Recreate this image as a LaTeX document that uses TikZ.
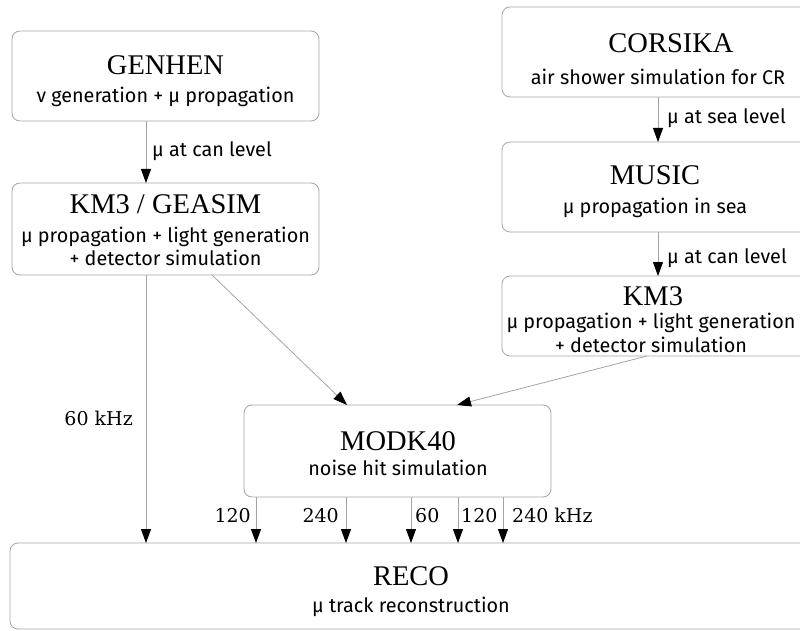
\documentclass[tikz,border=0pt]{standalone}
\usepackage{fontspec}
\usetikzlibrary{arrows.meta}
\newfontfamily\ttlfont{Liberation Serif}
\newfontfamily\subfont{Fira Sans}
\newfontfamily\labfont{DejaVu Serif}
\definecolor{linegray}{RGB}{165,165,165}
\begin{document}
\begin{tikzpicture}[x=1pt,y=-1pt,
  box/.style={draw=linegray,line width=0.8pt,rounded corners=8pt,inner sep=0pt,outer sep=0pt},
  ttl/.style={font=\ttlfont\fontsize{28.5}{34}\selectfont,inner sep=0pt,anchor=base},
  sub/.style={font=\subfont\fontsize{19.8}{22}\selectfont,inner sep=0pt,anchor=base},
  lab/.style={font=\labfont\fontsize{19}{22}\selectfont,inner sep=0pt},
  arr/.style={draw=linegray,line width=0.8pt,-{Triangle[length=14pt,width=10pt,color=black,fill=black]}}]
\useasboundingbox (0,0) rectangle (800,631);
\clip (0,0) rectangle (800,631);
% boxes
\node[box,minimum width=307pt,minimum height=90pt] (genhen) at (165.5,76) {};
\node[box,minimum width=307pt,minimum height=92pt] (geasim) at (165.5,229) {};
\node[box,minimum width=306pt,minimum height=90pt] (corsika) at (655,52) {};
\node[box,minimum width=306pt,minimum height=90pt] (music) at (655,187) {};
\node[box,minimum width=306pt,minimum height=80pt] (kmr) at (655,316) {};
\node[box,minimum width=307pt,minimum height=92pt] (modk) at (397.5,451) {};
\node[box,minimum width=802pt,minimum height=86pt] (reco) at (411,586) {};
% texts
\node[ttl] (genhenT) at (165.5,75) {GENHEN};
\node[sub] (genhenS) at (165.5,103) {ν generation + μ propagation};
\node[ttl] (geasimT) at (165.5,214) {KM3 / GEASIM};
\node[sub] (geasimS1) at (165.5,242) {μ propagation + light generation};
\node[sub] (geasimS2) at (165.5,265) {+ detector simulation};
\node[ttl] (corsikaT) at (671,53) {CORSIKA};
\node[sub] (corsikaS) at (658,85) {air shower simulation for CR};
\node[ttl] (musicT) at (655,185) {MUSIC};
\node[sub] (musicS) at (655,213) {μ propagation in sea};
\node[ttl] (kmrT) at (653,305) {KM3};
\node[sub] (kmrS1) at (651,328) {μ propagation + light generation};
\node[sub] (kmrS2) at (651,352) {+ detector simulation};
\node[ttl] (modkT) at (398,450) {MODK40};
\node[sub] (modkS) at (398,475) {noise hit simulation};
\node[ttl] (recoT) at (411,585) {RECO};
\node[sub] (recoS) at (411,612) {μ track reconstruction};
% connectors
\draw[arr] ([xshift=-19.5pt]genhen.south) -- ([xshift=-19.5pt]geasim.north);
\draw[arr] ([xshift=3pt]corsika.south) -- ([xshift=3pt]music.north);
\draw[arr] ([xshift=3pt]music.south) -- ([xshift=3pt]kmr.north);
\draw[arr] ([xshift=46.5pt]geasim.south) -- ([xshift=-50.5pt]modk.north);
\draw[arr] ([xshift=-8pt]kmr.south) -- ([xshift=59.5pt]modk.north);
\draw[arr] ([xshift=-19.5pt]geasim.south) -- ([xshift=-265pt]reco.north);
\draw[arr] ([xshift=-141.5pt]modk.south) -- ([xshift=-155pt]reco.north);
\draw[arr] ([xshift=-51.5pt]modk.south) -- ([xshift=-65pt]reco.north);
\draw[arr] ([xshift=13.5pt]modk.south) -- ([xshift=0pt]reco.north);
\draw[arr] ([xshift=60.5pt]modk.south) -- ([xshift=47pt]reco.north);
\draw[arr] ([xshift=105.5pt]modk.south) -- ([xshift=92pt]reco.north);
% connector labels
\node[sub,anchor=base west] (l1) at (152,157) {μ at can level};
\node[sub,anchor=base west] (l2) at (667,124) {μ at sea level};
\node[sub,anchor=base west] (l3) at (667,263) {μ at can level};
\node[lab,anchor=base east] (l4) at (133,425) {60 kHz};
\node[lab,anchor=base east] (l5) at (251,522) {120};
\node[lab,anchor=base east] (l6) at (339,522) {240};
\node[lab,anchor=base west] (l7) at (415,522) {60};
\node[lab,anchor=base west] (l8) at (461,522) {120};
\node[lab,anchor=base west] (l9) at (512,522) {240 kHz};
\end{tikzpicture}
\end{document}
